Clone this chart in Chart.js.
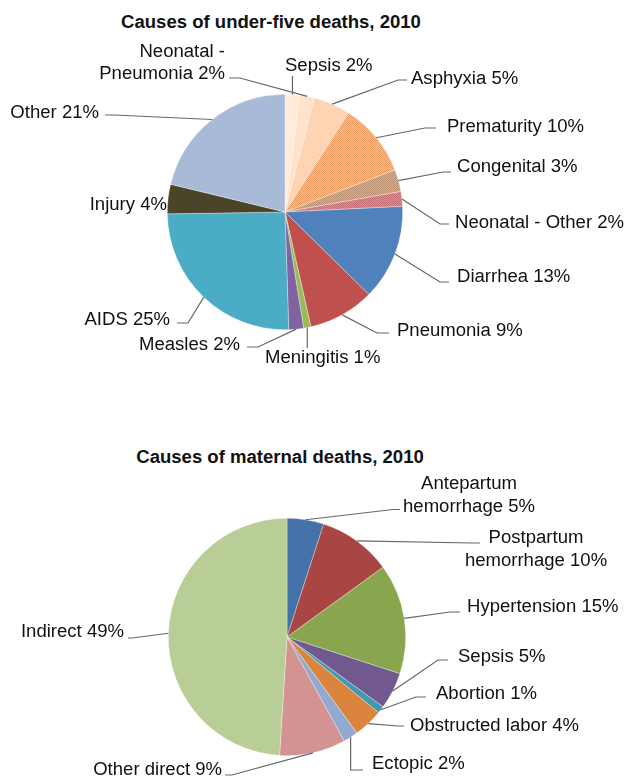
<!DOCTYPE html>
<html><head><meta charset="utf-8">
<script src="https://cdn.jsdelivr.net/npm/chart.js@4.4.1/dist/chart.umd.min.js"></script>
<style>
html,body{margin:0;padding:0;background:#fff;}
body{width:624px;height:778px;position:relative;overflow:hidden;font-family:"Liberation Sans",Arial,sans-serif;}
canvas{position:absolute;left:0;}
#c1{top:0}
#c2{top:389px}
.title{position:absolute;width:400px;text-align:center;font-weight:bold;font-size:18px;line-height:18px;color:#111;transform:scaleX(1.03);white-space:nowrap;}
</style></head><body>
<div class="title" id="t1" style="left:71px;top:13px"></div>
<div class="title" id="t2" style="left:80px;top:448px"></div>
<canvas id="c1" width="624" height="389"></canvas>
<canvas id="c2" width="624" height="389"></canvas>
<script>
// ---- data ----
const u5Title = 'Causes of under-five deaths, 2010';
const u5Categories = ['Sepsis','Neonatal - Pneumonia','Asphyxia','Prematurity','Congenital','Neonatal - Other','Diarrhea','Pneumonia','Meningitis','Measles','AIDS','Injury','Other'];
const u5Values = [2,2,5,10,3,2,13,9,1,2,25,4,21];
const matTitle = 'Causes of maternal deaths, 2010';
const matCategories = ['Antepartum hemorrhage','Postpartum hemorrhage','Hypertension','Sepsis','Abortion','Obstructed labor','Ectopic','Other direct','Indirect'];
const matValues = [5,10,15,5,1,4,2,9,49];

document.getElementById('t1').textContent = u5Title;
document.getElementById('t2').textContent = matTitle;

const c1 = document.getElementById('c1');
const c2 = document.getElementById('c2');

function checker(ctxTarget, base, alt, cell){
  const c = document.createElement('canvas');
  c.width = c.height = cell*2;
  const x = c.getContext('2d');
  x.fillStyle = base; x.fillRect(0,0,cell*2,cell*2);
  x.fillStyle = alt; x.fillRect(0,0,cell,cell); x.fillRect(cell,cell,cell,cell);
  return ctxTarget.createPattern(c,'repeat');
}
const k1 = c1.getContext('2d');
const u5Colors = [
  checker(k1,'#FEF3EA','#FBE6D6',1),
  checker(k1,'#FDEBDD','#FADCC5',1),
  checker(k1,'#FBDEC6','#F7CCAA',1),
  checker(k1,'#F6BA88','#EFA064',1),
  checker(k1,'#D2AE90','#BC9272',1),
  checker(k1,'#D8979A','#C06A6F',1),
  '#4F81BD','#C0504D','#9BBB59','#8064A2','#4BACC6','#4A4429','#A9B9D8'
];
const matColors = ['#4371A8','#A94643','#89A54E','#71588F','#4198AF','#DB843D','#93A9CF','#D39392','#B9CD96'];

// label layout (page coordinates)
const u5Layout = [
  {align:'left', x:285, y:[66], leader:[[null,76]]},
  {align:'right', x:225, y:[52,74], wrap:2, leader:[[240,78],[229,78]]},
  {align:'left', x:411, y:[79], leader:[[398,80],[407,80]]},
  {align:'left', x:447, y:[127], leader:[[425,128],[436,128]]},
  {align:'left', x:457, y:[167], leader:[[443,172],[451,172]]},
  {align:'left', x:455, y:[223], leader:[[440,224],[449,224]]},
  {align:'left', x:457, y:[277], leader:[[440,282],[449,282]]},
  {align:'left', x:397, y:[331], leader:[[377,333],[389,333]]},
  {align:'left', x:265, y:[358], leader:[[null,348]]},
  {align:'right', x:240, y:[345], leader:[[258,347],[247,347]]},
  {align:'right', x:170, y:[320], leader:[[188,323],[177,323]]},
  {align:'right', x:167, y:[205], leader:[]},
  {align:'right', x:99, y:[113], leader:[[114,115],[105,115]]}
];
const matLayout = [
  {align:'center', x:469, y:[484,507], wrap:1, leader:[[393,509.5],[400,509.5]]},
  {align:'center', x:536, y:[538,561], wrap:1, leader:[[472,543],[480,543]]},
  {align:'left', x:467, y:[607], leader:[[450,612],[460,612]]},
  {align:'left', x:458, y:[657], leader:[[438,660],[448,660]]},
  {align:'left', x:436, y:[694], leader:[[416,697],[426,697]]},
  {align:'left', x:410, y:[726], leader:[[398,726],[404,726]]},
  {align:'left', x:372, y:[764], leader:[[null,770],[363,770]]},
  {align:'right', x:222, y:[770], leader:[[232,775],[225,775]]},
  {align:'right', x:124, y:[632], leader:[[132,638],[128,638]]}
];

function leaderPlugin(layout, offsetY){
  return {
    id:'leaders',
    afterDatasetsDraw(chart){
      const ctx = chart.ctx;
      const meta = chart.getDatasetMeta(0);
      const labels = chart.data.labels;
      const vals = chart.data.datasets[0].data;
      ctx.save();
      meta.data.forEach((arc,i)=>{
        const L = layout[i];
        const p = arc.getProps(['x','y','startAngle','endAngle','outerRadius'], true);
        const mid = (p.startAngle + p.endAngle)/2;
        const ax = p.x + Math.cos(mid)*p.outerRadius;
        const ay = p.y + Math.sin(mid)*p.outerRadius;
        if (L.leader && L.leader.length){
          ctx.beginPath();
          ctx.moveTo(ax, ay);
          L.leader.forEach(pt=>ctx.lineTo(pt[0]==null?ax:pt[0], pt[1]-offsetY));
          ctx.strokeStyle = '#666';
          ctx.lineWidth = 1.2;
          ctx.stroke();
        }
        const text = labels[i] + ' ' + vals[i] + '%';
        const words = text.split(' ');
        const lines = L.wrap ? [words.slice(0,L.wrap).join(' '), words.slice(L.wrap).join(' ')] : [text];
        ctx.font = '18px "Liberation Sans", Arial, sans-serif';
        ctx.fillStyle = '#111';
        ctx.textBaseline = 'middle';
        ctx.textAlign = L.align;
        lines.forEach((ln,k)=>{
          ctx.save();
          ctx.translate(L.x, L.y[k]-offsetY);
          ctx.scale(1.03,1);
          ctx.fillText(ln,0,0);
          ctx.restore();
        });
      });
      ctx.restore();
    }
  };
}

function makePie(canvas, cats, vals, colors, padding, layout, offsetY){
  return new Chart(canvas, {
    type:'pie',
    data:{labels:cats, datasets:[{data:vals, backgroundColor:colors, borderColor:'rgba(255,255,255,0.55)', borderWidth:0.6}]},
    options:{
      responsive:false, animation:false, events:[],
      layout:{padding:padding},
      plugins:{legend:{display:false}, tooltip:{enabled:false}, title:{display:false}}
    },
    plugins:[leaderPlugin(layout, offsetY)]
  });
}
makePie(c1, u5Categories, u5Values, u5Colors, {left:167, top:94, right:221, bottom:59}, u5Layout, 0);
makePie(c2, matCategories, matValues, matColors, {left:168, top:129, right:218, bottom:22}, matLayout, 389);
</script>
</body></html>
